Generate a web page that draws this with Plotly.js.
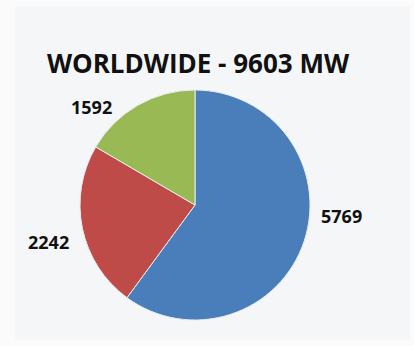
<!DOCTYPE html>
<html>
<head>
<meta charset="utf-8">
<script src="https://cdn.plot.ly/plotly-3.0.1.min.js"></script>
<style>
  html, body { margin: 0; padding: 0; background: #fbfbfc; }
  #chart { width: 414px; height: 346px; }
</style>
</head>
<body>
<div id="chart"></div>
<script>
// Installed capacity by region (MW)
const regions = ["Region A", "Region B", "Region C"];
const capacityMW = [5769, 2242, 1592];
const sliceColors = ["#4a7ebb", "#be4b48", "#98b954"];

const total = capacityMW.reduce((a, b) => a + b, 0);

// Label anchor points (paper coordinates) for each slice value
const labelX = [0.826, 0.118, 0.222];
const labelY = [0.375, 0.30, 0.69];

const W = 414, H = 346;
const cx = 195, cy = 205, r = 115;

const pie = {
  type: "pie",
  labels: regions,
  values: capacityMW,
  sort: false,
  direction: "clockwise",
  rotation: 0,
  textinfo: "none",
  hoverinfo: "label+value",
  marker: { colors: sliceColors, line: { color: "#e8ecf2", width: 1 } },
  domain: { x: [(cx - r) / W, (cx + r) / W], y: [(H - cy - r) / H, (H - cy + r) / H] },
  showlegend: false
};

const annotations = capacityMW.map((v, i) => ({
  xref: "paper", yref: "paper",
  x: labelX[i], y: labelY[i],
  xanchor: "center", yanchor: "middle",
  text: "<b>" + v + "</b>",
  showarrow: false,
  font: { family: "Open Sans, sans-serif", size: 18, color: "#111111" }
}));

const layout = {
  width: W, height: H,
  margin: { l: 0, r: 0, t: 0, b: 0 },
  paper_bgcolor: "#fbfbfc",
  title: {
    text: "<b>WORLDWIDE - " + total + " MW</b>",
    x: 198 / W, xanchor: "center",
    y: 1 - 64 / H, yanchor: "middle",
    font: { family: "Open Sans, sans-serif", size: 26, color: "#111111" }
  },
  shapes: [{
    type: "rect", xref: "paper", yref: "paper", layer: "below",
    x0: 15 / W, x1: 410 / W, y0: 1 - 340 / H, y1: 1 - 6 / H,
    fillcolor: "#f5f6f8", line: { width: 0 }
  }],
  annotations: annotations
};

Plotly.newPlot("chart", [pie], layout, { displayModeBar: false, staticPlot: true });
</script>
</body>
</html>
